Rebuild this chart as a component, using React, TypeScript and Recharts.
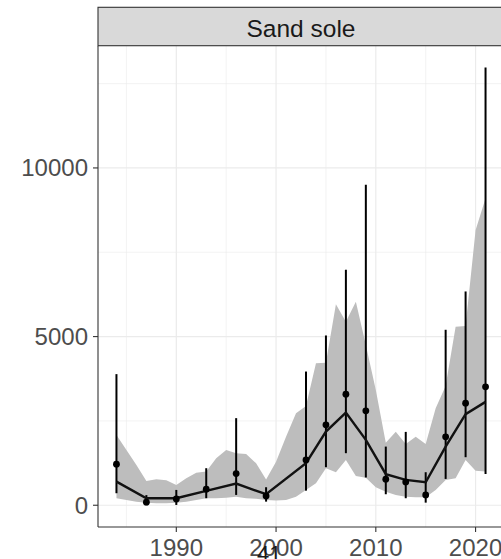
import {
  Area,
  CartesianGrid,
  ComposedChart,
  ErrorBar,
  Line,
  Scatter,
  XAxis,
  YAxis,
} from "recharts";

// yearly confidence ribbon
const ribbonYears = [
  1984, 1985, 1986, 1987, 1988, 1989, 1990, 1991, 1992, 1993, 1994, 1995, 1996,
  1997, 1998, 1999, 2000, 2001, 2002, 2003, 2004, 2005, 2006, 2007, 2008, 2009,
  2010, 2011, 2012, 2013, 2014, 2015, 2016, 2017, 2018, 2019, 2020, 2021,
];
const ribbonLow = [
  207, 157, 107, 77, 59, 59, 77, 107, 157, 207, 207, 225, 255, 207, 190, 157,
  137, 157, 255, 454, 652, 1097, 978, 1343, 869, 818, 534, 403, 305, 255, 237,
  237, 454, 750, 800, 1343, 1026, 997,
];
const ribbonHigh = [
  2084, 1640, 1195, 720, 770, 740, 602, 800, 967, 997, 1393, 1640, 1541, 1521,
  1245, 760, 1293, 2034, 2727, 2944, 4210, 4228, 5959, 5443, 6036, 4752, 3418,
  1856, 2182, 1817, 2034, 1817, 2875, 3537, 5295, 5315, 8150, 9100,
];

// survey observations with error bars, plus the fitted trend
const obsYears = [
  1984, 1987, 1990, 1993, 1996, 1999, 2003, 2005, 2007, 2009, 2011, 2013, 2015,
  2017, 2019, 2021,
];
const obsValue = [
  1217, 90, 187, 475, 938, 276, 1344, 2383, 3294, 2798, 772, 691, 306, 2027,
  3027, 3510,
];
const obsLow = [
  356, 0, 9, 208, 306, 107, 433, 1128, 1543, 819, 326, 208, 77, 780, 1424, 929,
];
const obsHigh = [
  3887, 300, 454, 1098, 2582, 534, 3964, 5033, 6982, 9505, 1739, 2175, 979,
  5202, 6338, 12980,
];
const trend = [
  700, 208, 208, 424, 641, 326, 1246, 2184, 2748, 1938, 920, 751, 682, 1739,
  2700, 3065,
];

const xTicks = [1990, 2000, 2010, 2020];
const xMinor = [1985, 1995, 2005, 2015];
const yTicks = [0, 5000, 10000];
const yMinor = [2500, 7500, 12500];

const FONT = "'Liberation Sans', Arial, sans-serif";
const AXIS = "#333333";
const TICK_TEXT = "#4d4d4d";
const GRID = "#ebebeb";

const ribbonRows = ribbonYears.map((year, i) => ({
  year,
  band: [ribbonLow[i], ribbonHigh[i]],
}));

const obsRows = obsYears.map((year, i) => ({
  year,
  value: obsValue[i],
  trend: trend[i],
  err: [obsValue[i] - obsLow[i], obsHigh[i] - obsValue[i]],
}));

export default function App() {
  return (
    <div
      style={{
        position: "absolute",
        left: 0,
        top: 0,
        width: 501,
        height: 559,
        overflow: "hidden",
        background: "#fff",
        fontFamily: FONT,
      }}
    >
      <ComposedChart
        width={510}
        height={559}
        data={ribbonRows}
        margin={{ top: 46, right: 6, bottom: 0, left: 0 }}
      >
        <CartesianGrid
          stroke={GRID}
          strokeWidth={0.6}
          verticalValues={xMinor}
          horizontalValues={yMinor}
        />
        <CartesianGrid
          stroke={GRID}
          strokeWidth={1.2}
          verticalValues={xTicks}
          horizontalValues={yTicks}
        />
        <XAxis
          type="number"
          dataKey="year"
          domain={[1982.15, 2022.85]}
          allowDataOverflow
          ticks={xTicks}
          interval={0}
          height={32}
          tickSize={5}
          tickMargin={7}
          tick={{ fill: TICK_TEXT, fontSize: 24, fontFamily: FONT }}
          tickLine={{ stroke: AXIS, strokeWidth: 1.1 }}
          axisLine={{ stroke: AXIS, strokeWidth: 1.1 }}
        />
        <YAxis
          type="number"
          domain={[-645, 13615]}
          allowDataOverflow
          ticks={yTicks}
          interval={0}
          width={98}
          tickSize={5}
          tickMargin={5}
          tick={{ fill: TICK_TEXT, fontSize: 24, fontFamily: FONT }}
          tickLine={{ stroke: AXIS, strokeWidth: 1.1 }}
          axisLine={{ stroke: AXIS, strokeWidth: 1.1 }}
        />
        <Area
          dataKey="band"
          type="linear"
          stroke="none"
          fill="#bdbdbd"
          fillOpacity={1}
          isAnimationActive={false}
        />
        <Scatter
          data={obsRows}
          dataKey="value"
          isAnimationActive={false}
          shape={(p: { cx?: number; cy?: number }) => (
            <circle cx={p.cx} cy={p.cy} r={3.4} fill="#000" />
          )}
        >
          <ErrorBar
            dataKey="err"
            direction="y"
            width={0}
            stroke="#000"
            strokeWidth={2}
            isAnimationActive={false}
          />
        </Scatter>
        <Line
          data={obsRows}
          dataKey="trend"
          type="linear"
          stroke="#111"
          strokeWidth={2.4}
          dot={false}
          isAnimationActive={false}
        />
      </ComposedChart>
      <svg
        width={501}
        height={559}
        style={{ position: "absolute", left: 0, top: 0, pointerEvents: "none" }}
      >
        <rect
          x={98}
          y={7.3}
          width={420}
          height={38.4}
          fill="#d9d9d9"
          stroke={AXIS}
          strokeWidth={1.1}
        />
        <text
          x={301}
          y={36.7}
          textAnchor="middle"
          fontSize={24.5}
          fontFamily={FONT}
          fill="#1a1a1a"
        >
          Sand sole
        </text>
        <text x={257} y={561} fontSize={22} fontFamily={FONT} fill="#1a1a1a">
          41
        </text>
      </svg>
    </div>
  );
}
